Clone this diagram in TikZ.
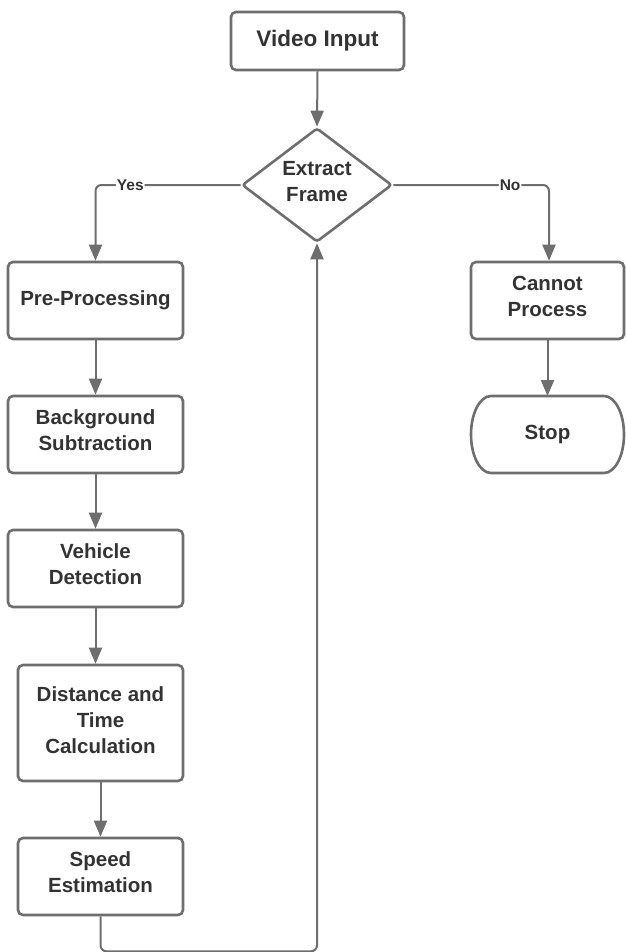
\documentclass[tikz,border=0pt]{standalone}
\usepackage{fontspec}
\setmainfont{Liberation Sans}
\usetikzlibrary{shapes.geometric,arrows.meta}
\definecolor{edge}{HTML}{6E6E6E}
\definecolor{ink}{HTML}{333333}
\begin{document}
\begin{tikzpicture}[x=1pt,y=-1pt,
  box/.style={draw=edge, line width=2.6pt, rounded corners=5pt, fill=white,
    inner sep=0pt},
  txt/.style={text=ink, font=\fontsize{20.5}{26}\selectfont\bfseries,
    align=center, inner sep=0pt},
  caption/.style={label={[txt, yshift=#1]center:}},
  decision/.style={diamond, draw=edge, line width=2.6pt, rounded corners=3pt,
    fill=white, inner sep=0pt, minimum width=150pt, minimum height=114pt},
  conn/.style={draw=edge, line width=2pt, -{Triangle[length=16pt,width=13pt]}},
  lbl/.style={fill=white, text=ink, font=\fontsize{15.5}{17}\selectfont\bfseries,
    inner sep=1pt},
]
\useasboundingbox[fill=white] (0,0) rectangle (625,952);

% main column
\node[box, minimum width=173pt, minimum height=58pt, txt,
  font=\fontsize{22.5}{26}\selectfont\bfseries] (video) at (317.5,41) {Video Input};
\node[decision, label={[txt, yshift=3pt]center:Extract\\Frame}] (frame) at (317,185) {};

% processing chain (left)
\node[box, txt, minimum width=175pt, minimum height=77pt] (pre) at (95.5,300.5) {Pre-Processing};
\node[box, minimum width=175pt, minimum height=77pt,
  label={[txt, yshift=4pt]center:Background\\Subtraction}] (bg) at (95.5,434.5) {};
\node[box, minimum width=175pt, minimum height=77pt,
  label={[txt, yshift=4pt]center:Vehicle\\Detection}] (veh) at (95.5,568.5) {};
\node[box, minimum width=165pt, minimum height=116pt,
  label={[txt, yshift=3pt]center:Distance and\\Time\\Calculation}] (dist) at (100.5,723) {};
\node[box, minimum width=165pt, minimum height=77pt,
  label={[txt, yshift=4pt]center:Speed\\Estimation}] (speed) at (100.5,876.5) {};

% failure branch (right)
\node[box, minimum width=153pt, minimum height=77pt,
  label={[txt, yshift=4pt]center:Cannot\\Process}] (cannot) at (547.5,300.5) {};
\node[txt, draw=none, outer sep=0pt, minimum width=153pt, minimum height=77pt] (stop) at (547.5,434.5) {Stop};
% terminator outline: flat top and bottom, half-elliptic ends
\draw[draw=edge, line width=2.6pt]
  ([xshift=20pt]stop.north west) -- ([xshift=-20pt]stop.north east)
  .. controls ([xshift=-8.95pt]stop.north east) and ([yshift=21.26pt]stop.east) .. (stop.east)
  .. controls ([yshift=-21.26pt]stop.east) and ([xshift=-8.95pt]stop.south east) .. ([xshift=-20pt]stop.south east)
  -- ([xshift=20pt]stop.south west)
  .. controls ([xshift=8.95pt]stop.south west) and ([yshift=-21.26pt]stop.west) .. (stop.west)
  .. controls ([yshift=21.26pt]stop.west) and ([xshift=8.95pt]stop.north west) .. ([xshift=20pt]stop.north west)
  -- cycle;

% connectors
\draw[conn] (video.south) -- (frame.north);
\draw[conn, rounded corners=6pt] (frame.west) -| node[lbl, pos=0.38] {Yes} (pre.north);
\draw[conn, rounded corners=6pt] (frame.east) -| node[lbl, pos=0.375] {No} ([xshift=1.5pt]cannot.north);
\draw[conn] (pre.south) -- (bg.north);
\draw[conn] (bg.south) -- (veh.north);
\draw[conn] (veh.south) -- (veh.south |- dist.north);
\draw[conn] (dist.south) -- (speed.north);
\draw[conn] (cannot.south) -- (stop.north);
\draw[conn, rounded corners=6pt] (speed.south) -- ++(0,35) -| (frame.south);
\end{tikzpicture}
\end{document}
